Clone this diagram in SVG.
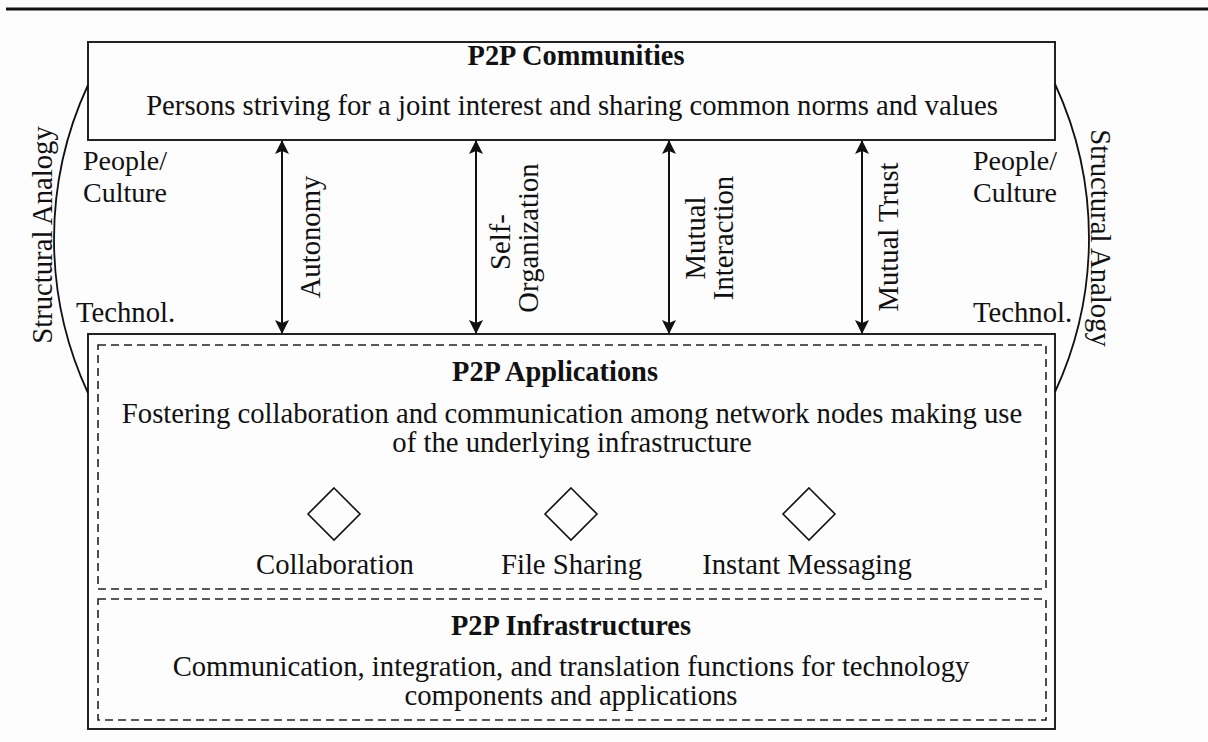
<svg xmlns="http://www.w3.org/2000/svg" width="1208" height="742" viewBox="0 0 1208 742">
<style>
text{font-family:"Liberation Serif","Times New Roman",serif;font-size:28.7px;fill:#111}
.b{font-weight:bold;font-size:28.4px}
.m{text-anchor:middle}
.s{font-size:28px}
.box{fill:none;stroke:#222;stroke-width:2}
.dash{fill:none;stroke:#222;stroke-width:1.6;stroke-dasharray:8 5}
.arc{fill:none;stroke:#111;stroke-width:1.8}
.con{stroke:#111;stroke-width:2;fill:none}
.dia{fill:none;stroke:#111;stroke-width:1.6}
</style>
<defs>
<marker id="ah" viewBox="0 0 14 14" refX="13" refY="7" markerWidth="14" markerHeight="14" markerUnits="userSpaceOnUse" orient="auto-start-reverse">
<path d="M0,0 L14,7 L0,14 L3,7 Z" fill="#111"/>
</marker>
</defs>
<rect x="0" y="0" width="1208" height="742" fill="#fdfdfd"/>
<line x1="6" y1="9" x2="1208" y2="9" stroke="#111" stroke-width="3"/>

<g id="communities">
<rect class="box" x="88" y="42" width="967" height="98"/>
<text class="b m" x="576" y="65">P2P Communities</text>
<text class="m" x="572" y="115">Persons striving for a joint interest and sharing common norms and values</text>
</g>

<g id="side-left">
<text class="s" x="83" y="170">People/</text>
<text class="s" x="83" y="202">Culture</text>
<text x="76" y="322">Technol.</text>
<text class="m" transform="translate(52,235) rotate(-90)">Structural Analogy</text>
</g>
<g id="side-right">
<text class="s" x="973" y="170">People/</text>
<text class="s" x="973" y="202">Culture</text>
<text x="973" y="322">Technol.</text>
<text class="m" transform="translate(1091,238) rotate(90)">Structural Analogy</text>
</g>

<g id="lower">
<rect class="box" x="88" y="334" width="967" height="395"/>
</g>

<g id="applications">
<rect class="dash" x="98" y="345" width="948" height="244"/>
<text class="b m" x="555" y="381">P2P Applications</text>
<text class="m" x="572" y="423">Fostering collaboration and communication among network nodes making use</text>
<text class="m" x="572" y="452">of the underlying infrastructure</text>
</g>
<g id="collaboration">
<path class="dia" d="M334,488 L360,514 L334,540 L308,514 Z"/>
<text class="m" x="335" y="574">Collaboration</text>
</g>
<g id="filesharing">
<path class="dia" d="M571,488 L597,514 L571,540 L545,514 Z"/>
<text class="m" x="571.5" y="574">File Sharing</text>
</g>
<g id="messaging">
<path class="dia" d="M809,488 L835,514 L809,540 L783,514 Z"/>
<text class="m" x="807" y="574">Instant Messaging</text>
</g>

<g id="infrastructures">
<rect class="dash" x="98" y="599" width="948" height="121"/>
<text class="b m" x="571" y="635">P2P Infrastructures</text>
<text class="m" x="571" y="676">Communication, integration, and translation functions for technology</text>
<text class="m" x="571" y="705">components and applications</text>
</g>

<g id="connectors">
<path class="arc" d="M88,85 A366,366 0 0 0 88,393"/>
<path class="arc" d="M1055,84 A366,366 0 0 1 1055,392"/>
<line class="con" x1="282" y1="141" x2="282" y2="333" marker-start="url(#ah)" marker-end="url(#ah)"/>
<line class="con" x1="476" y1="141" x2="476" y2="333" marker-start="url(#ah)" marker-end="url(#ah)"/>
<line class="con" x1="669" y1="141" x2="669" y2="333" marker-start="url(#ah)" marker-end="url(#ah)"/>
<line class="con" x1="862" y1="141" x2="862" y2="333" marker-start="url(#ah)" marker-end="url(#ah)"/>
<text class="m" transform="translate(320,237) rotate(-90)">Autonomy</text>
<text class="m" transform="translate(510,242) rotate(-90)">Self-</text>
<text class="m" transform="translate(538,238) rotate(-90)">Organization</text>
<text class="m" transform="translate(705,238) rotate(-90)">Mutual</text>
<text class="m" transform="translate(733,238) rotate(-90)">Interaction</text>
<text class="m" transform="translate(898,237) rotate(-90)">Mutual Trust</text>
</g>
</svg>
